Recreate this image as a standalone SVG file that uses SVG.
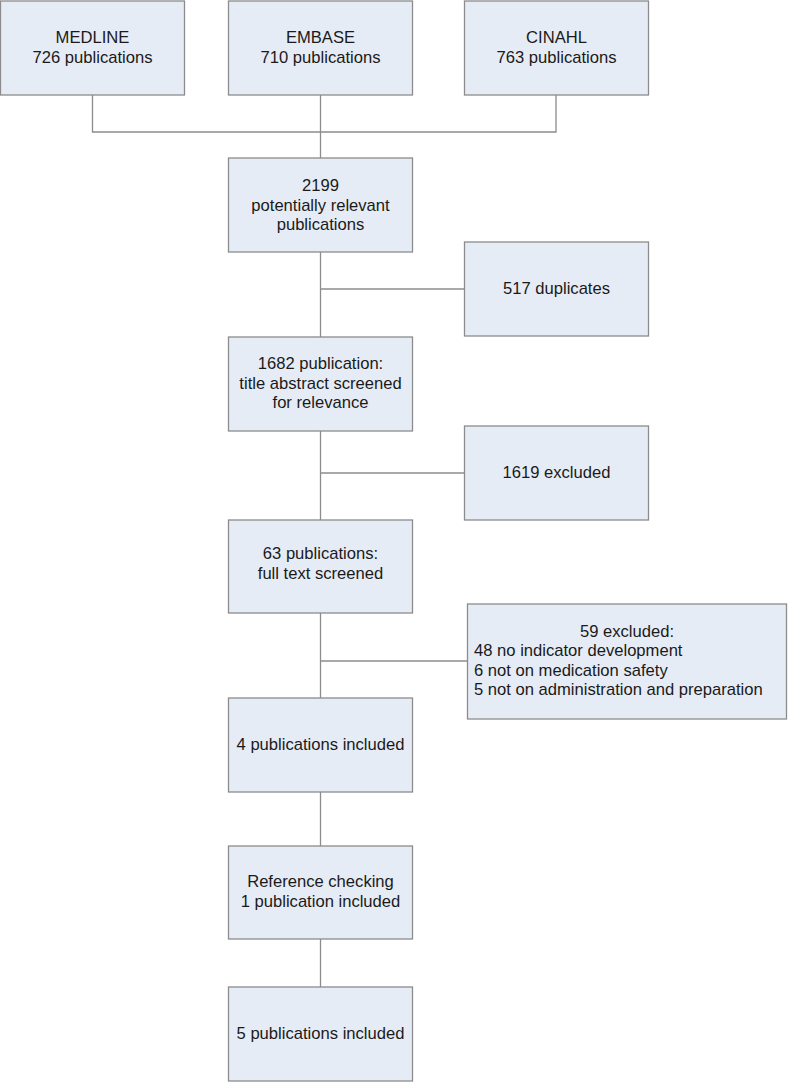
<svg xmlns="http://www.w3.org/2000/svg" width="788" height="1082" viewBox="0 0 788 1082">
<style>
.box{fill:#e6ecf6;stroke:#8c8c8c;stroke-width:1.3}
.t{font-family:"Liberation Sans",Arial,sans-serif;font-size:16.6px;fill:#1a1a1a;text-anchor:middle}
.l{text-anchor:start}
.c{fill:none;stroke:#8c8c8c;stroke-width:1.3}
</style>
<rect width="788" height="1082" fill="#ffffff"/>
<g id="connectors" class="c">
<path d="M92.5 95V132H556V95"/>
<path d="M320.5 95V158"/>
<path d="M320.5 252V337"/>
<path d="M320.5 289H464"/>
<path d="M320.5 431V520"/>
<path d="M320.5 473H464"/>
<path d="M320.5 613V702"/>
<path d="M320.5 661H467"/>
<path d="M320.5 792V846"/>
<path d="M320.5 939V987"/>
</g>
<g id="medline"><rect class="box" x="0.5" y="1" width="184" height="94"/><text class="t" x="92.5" y="43">MEDLINE</text><text class="t" x="92.5" y="63">726 publications</text></g>
<g id="embase"><rect class="box" x="228.5" y="1" width="184" height="94"/><text class="t" x="320.5" y="43">EMBASE</text><text class="t" x="320.5" y="63">710 publications</text></g>
<g id="cinahl"><rect class="box" x="464.5" y="1" width="184" height="94"/><text class="t" x="556.5" y="43">CINAHL</text><text class="t" x="556.5" y="63">763 publications</text></g>
<g id="relevant"><rect class="box" x="228.5" y="158" width="184" height="94"/><text class="t" x="320.5" y="191">2199</text><text class="t" x="320.5" y="211">potentially relevant</text><text class="t" x="320.5" y="230">publications</text></g>
<g id="duplicates"><rect class="box" x="464.5" y="242" width="184" height="94"/><text class="t" x="556.5" y="294">517 duplicates</text></g>
<g id="screened"><rect class="box" x="228.5" y="337" width="184" height="94"/><text class="t" x="320.5" y="369">1682 publication:</text><text class="t" x="320.5" y="389">title abstract screened</text><text class="t" x="320.5" y="408">for relevance</text></g>
<g id="excluded1"><rect class="box" x="464.5" y="426" width="184" height="94"/><text class="t" x="556.5" y="478">1619 excluded</text></g>
<g id="fulltext"><rect class="box" x="228.5" y="520" width="184" height="93"/><text class="t" x="320.5" y="559">63 publications:</text><text class="t" x="320.5" y="579">full text screened</text></g>
<g id="excluded2"><rect class="box" x="467.5" y="604" width="319" height="115"/><text class="t" x="627" y="637">59 excluded:</text><text class="t l" x="474" y="656">48 no indicator development</text><text class="t l" x="474" y="676">6 not on medication safety</text><text class="t l" x="474" y="695">5 not on administration and preparation</text></g>
<g id="included4"><rect class="box" x="228.5" y="698" width="184" height="94"/><text class="t" x="320.5" y="750">4 publications included</text></g>
<g id="reference"><rect class="box" x="228.5" y="846" width="184" height="93"/><text class="t" x="320.5" y="887">Reference checking</text><text class="t" x="320.5" y="907">1 publication included</text></g>
<g id="included5"><rect class="box" x="228.5" y="987" width="184" height="94"/><text class="t" x="320.5" y="1039">5 publications included</text></g>
</svg>
